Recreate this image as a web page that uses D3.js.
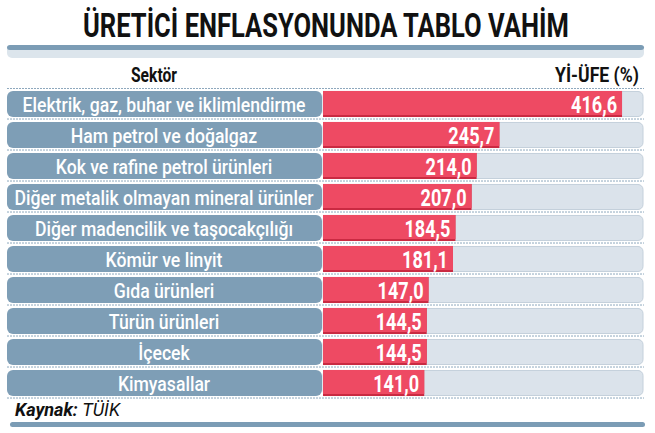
<!DOCTYPE html>
<html>
<head>
<meta charset="utf-8">
<script src="https://cdn.jsdelivr.net/npm/d3@7"></script>
<style>
  body { margin:0; background:#fff; }
  svg text { font-family: "Roboto", "DejaVu Sans", sans-serif; }
</style>
</head>
<body>
<div id="chart-area"></div>
<script>
// data
var sectors = ["Elektrik, gaz, buhar ve iklimlendirme", "Ham petrol ve doğalgaz", "Kok ve rafine petrol ürünleri",
  "Diğer metalik olmayan mineral ürünler", "Diğer madencilik ve taşocakçılığı", "Kömür ve linyit",
  "Gıda ürünleri", "Türün ürünleri", "İçecek", "Kimyasallar"];
var values = [416.6, 245.7, 214.0, 207.0, 184.5, 181.1, 147.0, 144.5, 144.5, 141.0];
var titleText = "ÜRETİCİ ENFLASYONUNDA TABLO VAHİM";
var colHeaders = ["Sektör", "Yİ-ÜFE (%)"];
var sourceText = ["Kaynak: ", "TÜİK"];

var width = 655, height = 433;
var fmt = function(v){ return v.toFixed(1).replace(".", ","); };

// squeeze text horizontally (no condensed font installed)
function squeeze(sel, px, py, sx){
    sel.attr("x", 0).attr("y", 0)
       .attr("transform", "translate(" + px + "," + py + ") scale(" + sx + ",1)");
}

var svg = d3.select("#chart-area")
    .append("svg")
    .attr("width", width)
    .attr("height", height);

//scales
var x = d3.scaleLinear()
    .domain([0, 450])
    .range([323, 646]);

var y = d3.scaleBand()
    .domain(sectors)
    .range([88.5, 398.5])
    .paddingInner(0.16)
    .paddingOuter(0.08);

//title
var title = svg.append("text")
    .attr("font-size", "34px")
    .attr("font-weight", "bold")
    .attr("fill", "#111")
    .text(titleText);
squeeze(title, 83, 37, 486 / title.node().getComputedTextLength());

//top banner
svg.append("rect")
    .attr("x", 7).attr("y", 45)
    .attr("width", 637).attr("height", 13)
    .attr("rx", 5)
    .attr("fill", "#dce5ec");
svg.append("rect")
    .attr("x", 7).attr("y", 45)
    .attr("width", 637).attr("height", 5)
    .attr("rx", 3)
    .attr("fill", "#7b9cb5");

//column headers
var h1 = svg.append("text")
    .attr("text-anchor", "middle")
    .attr("font-size", "21px")
    .attr("font-weight", "bold")
    .attr("fill", "#111")
    .text(colHeaders[0]);
squeeze(h1, 154, 82, 46 / h1.node().getComputedTextLength());

var h2 = svg.append("text")
    .attr("text-anchor", "end")
    .attr("font-size", "21px")
    .attr("font-weight", "bold")
    .attr("fill", "#111")
    .text(colHeaders[1]);
squeeze(h2, 639, 82, 84 / h2.node().getComputedTextLength());

//dotted separators
var seps = [y.range()[0]].concat(sectors.map(function(d){ return y(d) + y.bandwidth() + 2; }));
svg.selectAll(".sep")
    .data(seps)
    .enter().append("line")
    .attr("class", "sep")
    .attr("x1", 7).attr("x2", 644)
    .attr("y1", function(d){ return d; })
    .attr("y2", function(d){ return d; })
    .attr("stroke", "#8ea8bd")
    .attr("stroke-width", 1)
    .attr("stroke-dasharray", "2,1");

var rows = svg.selectAll(".row")
    .data(sectors)
    .enter().append("g")
    .attr("class", "row")
    .attr("transform", function(d){ return "translate(0," + y(d) + ")"; });

//label boxes
rows.append("rect")
    .attr("x", 7).attr("y", 0)
    .attr("width", 315).attr("height", y.bandwidth())
    .attr("rx", 6)
    .attr("fill", "#7e9eb6");

var labels = rows.append("text")
    .attr("text-anchor", "middle")
    .attr("font-size", "21px")
    .attr("font-weight", "500")
    .attr("fill", "#fff")
    .text(function(d){ return d; });
var lsx = 283 / labels.node().getComputedTextLength();
labels.each(function(){ squeeze(d3.select(this), 164, y.bandwidth() / 2 + 7.5, lsx); });

//track
rows.append("rect")
    .attr("x", x(0)).attr("y", 0.5)
    .attr("width", 643 - x(0)).attr("height", y.bandwidth() - 1)
    .attr("rx", 5)
    .attr("fill", "#dbe3eb")
    .attr("stroke", "#c4d0db");

//bars
rows.append("rect")
    .attr("x", x(0)).attr("y", 0)
    .attr("width", function(d, i){ return x(values[i]) - x(0); })
    .attr("height", y.bandwidth())
    .attr("fill", "#c92a42");
rows.append("rect")
    .attr("x", x(0)).attr("y", 0)
    .attr("width", function(d, i){ return x(values[i]) - x(0); })
    .attr("height", y.bandwidth() - 2)
    .attr("fill", "#ee4a63");

var vals = rows.append("text")
    .attr("text-anchor", "end")
    .attr("font-size", "24px")
    .attr("font-weight", "bold")
    .attr("fill", "#fff")
    .text(function(d, i){ return fmt(values[i]); });
var vsx = 46 / vals.node().getComputedTextLength();
vals.each(function(d, i){ squeeze(d3.select(this), x(values[i]) - 5, y.bandwidth() / 2 + 8.5, vsx); });

//source
var src = svg.append("text")
    .attr("font-size", "18px")
    .attr("font-style", "italic")
    .attr("fill", "#111");
src.append("tspan").attr("font-weight", "bold").text(sourceText[0]);
src.append("tspan").text(sourceText[1]);
squeeze(src, 15, 416, 105 / src.node().getComputedTextLength());

//bottom bar
svg.append("rect")
    .attr("x", 10).attr("y", 422)
    .attr("width", 635).attr("height", 5)
    .attr("rx", 2.5)
    .attr("fill", "#7b9cb5");
</script>
</body>
</html>
